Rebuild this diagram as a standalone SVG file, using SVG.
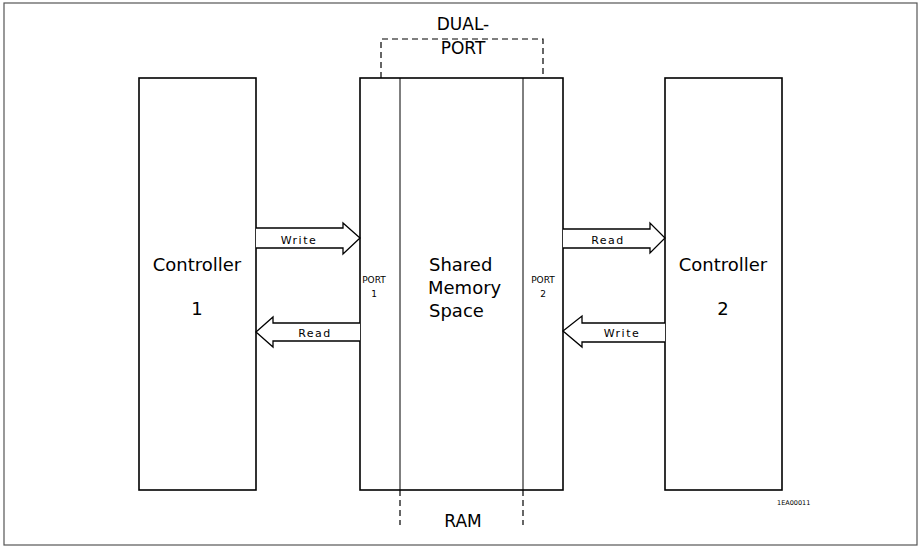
<svg xmlns="http://www.w3.org/2000/svg" width="922" height="547" viewBox="0 0 922 547">
<style>
.box{fill:#fff;stroke:#000;stroke-width:1.6}
.thin{fill:none;stroke:#000;stroke-width:1}
.dash{fill:none;stroke:#000;stroke-width:1.2;stroke-dasharray:6,4}
.arrow{fill:#fff;stroke:#000;stroke-width:1.3;stroke-linejoin:miter}
text{font-family:"DejaVu Sans","Liberation Sans",sans-serif;fill:#000;text-anchor:middle}
.big{font-size:17px}
.ctl{font-size:18px}
.left{text-anchor:start}
.lbl{font-size:11px;letter-spacing:1.5px}
.sm{font-size:9px}
.tiny{font-size:6.5px;text-anchor:start}
</style>
<rect x="4" y="3" width="913" height="542" fill="#fff" stroke="#555" stroke-width="1.2"/>
<g id="controller1">
<rect class="box" x="139" y="78" width="117" height="412"/>
<text class="ctl" x="197" y="271">Controller</text>
<text class="ctl" x="197" y="315">1</text>
</g>
<g id="ram">
<path class="dash" d="M381,78 V39 H543 V78"/>
<text class="big" x="463" y="30">DUAL-</text>
<text class="big" x="463" y="54">PORT</text>
<rect class="box" x="360" y="78" width="203" height="412"/>
<line class="thin" x1="400" y1="78" x2="400" y2="490"/>
<line class="thin" x1="523" y1="78" x2="523" y2="490"/>
<line class="dash" x1="400" y1="490" x2="400" y2="525"/>
<line class="dash" x1="523" y1="490" x2="523" y2="525"/>
<text class="big" x="463" y="527">RAM</text>
<text class="ctl left" x="429" y="271">Shared</text>
<text class="ctl left" x="428" y="294">Memory</text>
<text class="ctl left" x="429" y="317">Space</text>
<text class="sm" x="374" y="283">PORT</text>
<text class="sm" x="374" y="297">1</text>
<text class="sm" x="543" y="283">PORT</text>
<text class="sm" x="543" y="297">2</text>
</g>
<g id="controller2">
<rect class="box" x="665" y="78" width="117" height="412"/>
<text class="ctl" x="723" y="271">Controller</text>
<text class="ctl" x="723" y="315">2</text>
</g>
<g id="connectors">
<path class="arrow" d="M256,228 H343 V223 L360,238 L343,254 V248 H256"/>
<text class="lbl" x="299" y="244">Write</text>
<path class="arrow" d="M360,323 H273 V317 L256,332 L273,347 V341 H360"/>
<text class="lbl" x="315" y="337">Read</text>
<path class="arrow" d="M563,229 H650 V223 L665,238 L650,253 V248 H563"/>
<text class="lbl" x="608" y="244">Read</text>
<path class="arrow" d="M665,323 H582 V316 L563,331 L582,347 V342 H665"/>
<text class="lbl" x="622" y="337">Write</text>
</g>
<text class="tiny" x="777" y="505">1EA00011</text>
</svg>
